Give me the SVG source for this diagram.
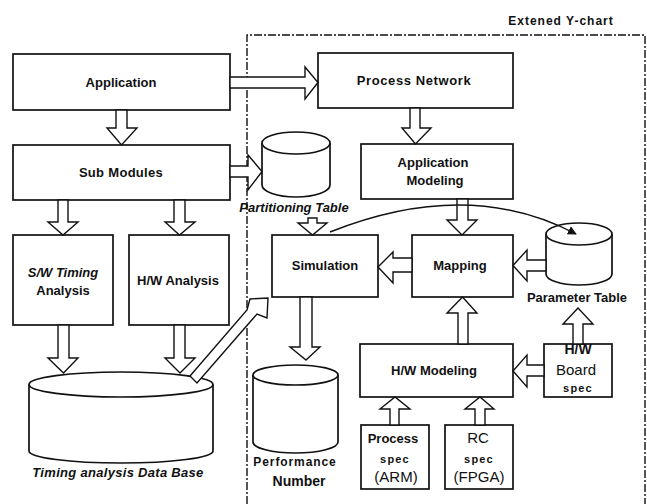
<svg xmlns="http://www.w3.org/2000/svg" width="647" height="504" viewBox="0 0 647 504">
<defs>
<style>
.bx{fill:#fff;stroke:#111;stroke-width:1.7}
.cy{fill:#fff;stroke:#111;stroke-width:1.7}
.ar{fill:#fff;stroke:#111;stroke-width:1.4;stroke-linejoin:miter}
.ln{fill:none;stroke:#111;stroke-width:1.4}
.fr{fill:none;stroke:#111;stroke-width:1.4;stroke-dasharray:8 2 2 2}
text{font-family:"Liberation Sans",Arial,sans-serif;fill:#111;text-anchor:middle}
.t{font-size:13px;font-weight:bold}
.ti{font-size:13px;font-weight:bold;font-style:italic}
.r{font-size:15px}
.s{font-size:11px;font-weight:bold;letter-spacing:1.2px}
</style>
<marker id="ah" viewBox="0 0 10 10" refX="9" refY="5" markerWidth="9" markerHeight="9" markerUnits="userSpaceOnUse" orient="auto">
<path d="M0,0 L10,5 L0,10 Z" fill="#111"/>
</marker>
</defs>
<rect width="647" height="504" fill="#fff"/>

<g id="ychart">
<path class="fr" d="M247,504 L247,35 L645,35 L645,504"/>
<text class="t" x="561" y="25" style="font-size:12px;letter-spacing:1px">Extened Y-chart</text>
</g>

<g id="application"><rect class="bx" x="13" y="54" width="217" height="56"/><text class="t" x="121" y="87">Application</text></g>
<g id="submodules"><rect class="bx" x="13" y="145" width="217" height="55"/><text class="t" x="121" y="177" style="letter-spacing:0.3px">Sub Modules</text></g>
<g id="swtiming"><rect class="bx" x="13" y="235" width="100" height="90"/><text class="ti" x="63" y="277">S/W Timing</text><text class="t" x="63" y="295">Analysis</text></g>
<g id="hwanalysis"><rect class="bx" x="129" y="235" width="100" height="90"/><text class="t" x="178" y="285">H/W Analysis</text></g>
<g id="timingdb">
<path class="cy" d="M29,384.5 L29,451 A92,12 0 0 0 213,451 L213,384.5"/>
<ellipse class="cy" cx="121" cy="384.5" rx="92" ry="12.5"/>
<text class="ti" x="118" y="477" style="letter-spacing:0.3px">Timing analysis Data Base</text>
</g>

<g id="processnetwork"><rect class="bx" x="318" y="53" width="195" height="55"/><text class="t" x="414" y="85" style="letter-spacing:0.6px">Process Network</text></g>
<g id="appmodeling"><rect class="bx" x="361" y="144" width="152" height="55"/><text class="t" x="433" y="167">Application</text><text class="t" x="435" y="185">Modeling</text></g>
<g id="partitioning">
<path class="cy" d="M262,143 L262,185 A34,12 0 0 0 330,185 L330,143"/>
<ellipse class="cy" cx="296" cy="143" rx="34" ry="11"/>
<text class="ti" x="294" y="212">Partitioning Table</text>
</g>
<g id="simulation"><rect class="bx" x="272" y="235" width="106" height="62"/><text class="t" x="325" y="270">Simulation</text></g>
<g id="mapping"><rect class="bx" x="412" y="235" width="101" height="62"/><text class="t" x="460" y="270">Mapping</text></g>
<g id="parametertable">
<path class="cy" d="M546,234 L546,274 A33,11 0 0 0 612,274 L612,234"/>
<ellipse class="cy" cx="579" cy="234" rx="33" ry="11"/>
<text class="t" x="577" y="302">Parameter Table</text>
</g>
<g id="performance">
<path class="cy" d="M253,375 L253,442 A42.5,11 0 0 0 338,442 L338,375"/>
<ellipse class="cy" cx="295.5" cy="375" rx="42.5" ry="10"/>
<text class="t" x="295" y="466" style="font-size:12px;letter-spacing:0.9px">Performance</text>
<text class="t" x="299" y="486" style="font-size:14px">Number</text>
</g>
<g id="hwmodeling"><rect class="bx" x="360" y="344" width="153" height="53"/><text class="t" x="434" y="375">H/W Modeling</text></g>
<g id="hwboard"><rect class="bx" x="544" y="344" width="68" height="53"/><text class="t" x="578" y="354" style="font-size:14px">H/W</text><text class="t" x="576" y="375" style="font-size:14px;font-weight:normal;font-size:15px">Board</text><text class="s" x="578" y="392">spec</text></g>
<g id="processspec"><rect class="bx" x="361" y="425" width="68" height="64"/><text class="t" x="393" y="443">Process</text><text class="s" x="395" y="463">spec</text><text class="r" x="396" y="482">(ARM)</text></g>
<g id="rcspec"><rect class="bx" x="445" y="425" width="68" height="64"/><text class="r" x="478" y="443">RC</text><text class="s" x="479" y="463">spec</text><text class="r" x="479" y="482">(FPGA)</text></g>

<g id="connectors">
<polygon class="ar" points="116,110 127,110 127,128 137,128 121.5,145 107,128 116,128"/>
<polygon class="ar" points="230,77 305,77 305,67 318,82.5 305,99 305,88 230,88"/>
<polygon class="ar" points="230,166 248,166 248,155 262,171.5 248,190 248,177 230,177"/>
<polygon class="ar" points="410,108 420,108 420,128 431,128 415.5,144 402,128 410,128"/>
<polygon class="ar" points="58,200 68,200 68,222 78,222 63,235 48,222 58,222"/>
<polygon class="ar" points="174,200 185,200 185,222 195,222 179.5,235 165,222 174,222"/>
<polygon class="ar" points="308,218 317,218 317,223 327,223 312.5,235 298,223 308,223"/>
<polygon class="ar" points="457,199 468,199 468,220 477,220 462,235 447,220 457,220"/>
<polygon class="ar" points="412,258 393,258 393,252 378,267 393,283 393,272 412,272"/>
<polygon class="ar" points="546,260 527,260 527,250 513,265.5 527,281 527,271 546,271"/>
<polygon class="ar" points="58,325 69,325 69,358 78,358 63.5,373 48,358 58,358"/>
<polygon class="ar" points="174,325 185,325 185,358 195,358 180,373 165,358 174,358"/>
<polygon class="ar" points="190,376 247,310 250,299 268,298 267,318 257,314 197,383"/>
<polygon class="ar" points="300,297 312,297 312,347 320,347 306,360 290,347 300,347"/>
<polygon class="ar" points="458,344 468,344 468,313 477,313 462.5,297 447,313 458,313"/>
<polygon class="ar" points="544,365 527,365 527,355 513,371 527,387 527,376 544,376"/>
<polygon class="ar" points="573,344 583,344 583,324 593,324 578,308 563,324 573,324"/>
<polygon class="ar" points="390,425 399,425 399,409 410,409 395,397 380,409 390,409"/>
<polygon class="ar" points="475,425 485,425 485,409 494,409 480,397 465,409 475,409"/>
<path class="ln" d="M330,232 Q468,177 576,234" marker-end="url(#ah)"/>
</g>
</svg>
